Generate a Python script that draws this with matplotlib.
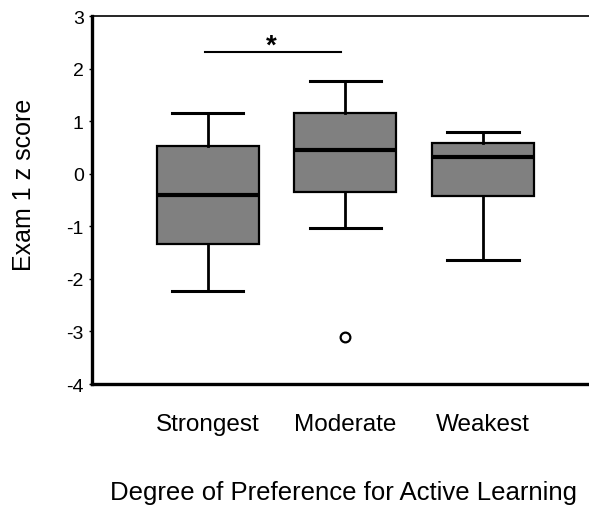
import matplotlib
matplotlib.use("Agg")
import matplotlib.pyplot as plt

plt.rcParams['font.family'] = ['Liberation Sans', 'DejaVu Sans']

# Box plot summary values
groups = ["Strongest", "Moderate", "Weakest"]
whisker_low = [-2.23, -1.04, -1.64]
q1 = [-1.34, -0.35, -0.42]
median = [-0.40, 0.45, 0.32]
q3 = [0.53, 1.15, 0.58]
whisker_high = [1.15, 1.76, 0.80]
outliers = [[], [-3.10], []]

# significance bracket between Strongest and Moderate
sig_y = 2.31
yticks = [-4, -3, -2, -1, 0, 1, 2, 3]

stats = []
for i, g in enumerate(groups):
    stats.append({"label": g, "whislo": whisker_low[i], "q1": q1[i], "med": median[i],
                  "q3": q3[i], "whishi": whisker_high[i], "fliers": outliers[i]})

fig = plt.figure(figsize=(5.89, 5.10), dpi=100)
ax = fig.add_axes([92 / 589, (510 - 385) / 510, (589 - 92) / 589, 368 / 510])

positions = [1, 2, 3]
ax.bxp(stats, positions=positions, widths=0.74, patch_artist=True,
       boxprops=dict(facecolor="#808080", edgecolor="black", linewidth=1.6),
       medianprops=dict(color="black", linewidth=3),
       whiskerprops=dict(color="black", linewidth=2),
       capprops=dict(color="black", linewidth=2.2),
       capwidths=0.52,
       flierprops=dict(marker="o", markerfacecolor="none", markeredgecolor="black",
                       markersize=7, markeredgewidth=1.6))

ax.set_xlim(0.16, 3.77)
ax.set_ylim(-4, 3)
ax.set_yticks(yticks)
ax.set_yticklabels([str(t) for t in yticks], fontsize=14)
ax.tick_params(axis="y", length=2, width=1, pad=4)
ax.tick_params(axis="x", length=0, pad=21, labelsize=17.5)

ax.spines["right"].set_visible(False)
ax.spines["left"].set_linewidth(2.4)
ax.spines["bottom"].set_linewidth(2.4)
ax.spines["top"].set_linewidth(1.2)

# significance line with star
ax.plot([0.98, 1.97], [sig_y, sig_y], color="black", linewidth=1.5)
ax.text(1.46, sig_y - 0.13, "*", ha="center", va="bottom", fontsize=20, fontweight="bold")

# axis titles placed where they sit in the original
fig.text(344 / 589, 1 - 493 / 510, "Degree of Preference for Active Learning",
         ha="center", va="center", fontsize=18.5)
fig.text(24 / 589, 1 - 185 / 510, "Exam 1 z score", rotation=90,
         ha="center", va="center", fontsize=18)

fig.savefig("out.png", dpi=100)
